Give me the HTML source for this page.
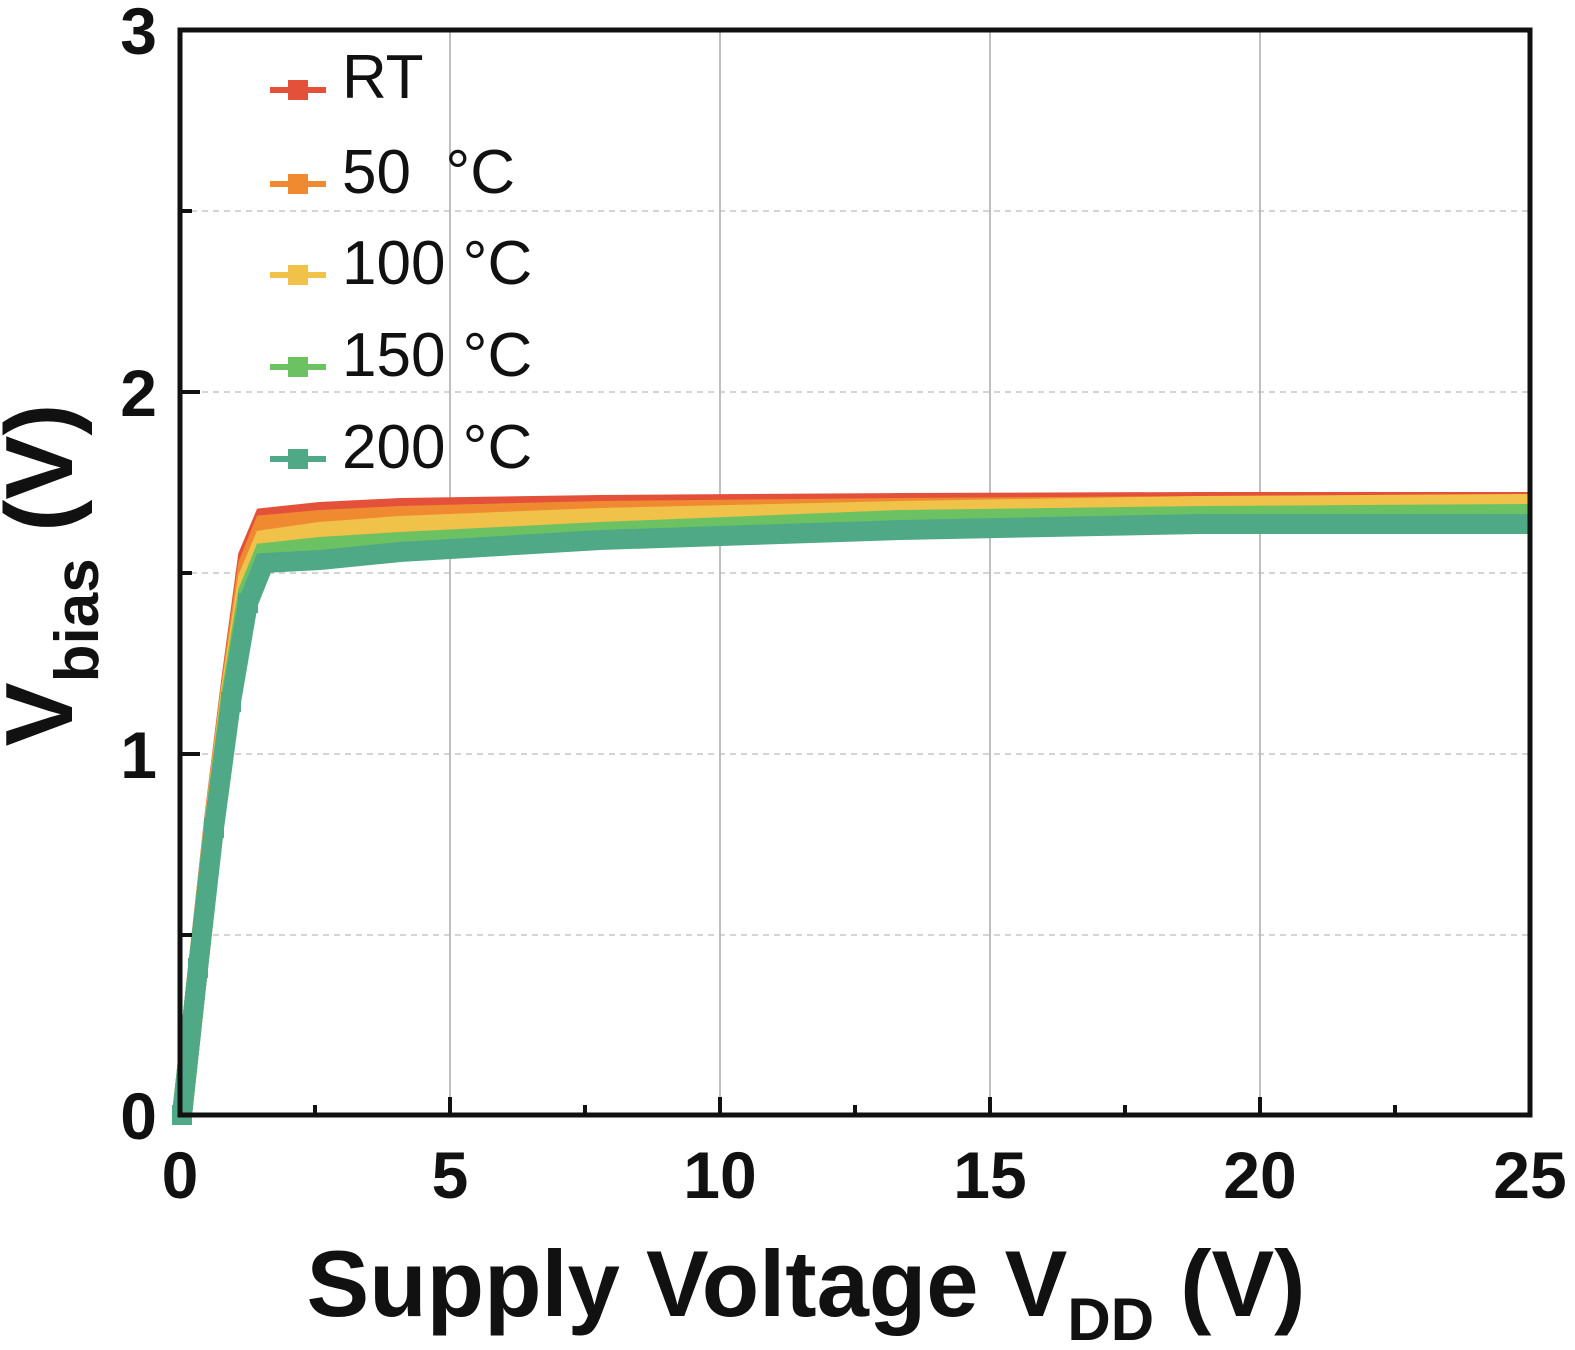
<!DOCTYPE html><html><head><style>html,body{margin:0;padding:0;overflow:hidden;background:#fff}svg{display:block}</style></head><body>
<svg width="1575" height="1350" xmlns="http://www.w3.org/2000/svg" font-family="Liberation Sans, Arial, sans-serif">
<g stroke="#aaa" stroke-width="1.5">
<line x1="450" y1="30" x2="450" y2="1115"/><line x1="720" y1="30" x2="720" y2="1115"/><line x1="990" y1="30" x2="990" y2="1115"/><line x1="1260" y1="30" x2="1260" y2="1115"/>
</g>
<g stroke="#bbb" stroke-width="1.2" stroke-dasharray="6,5">
<line x1="180" y1="211" x2="1530" y2="211"/><line x1="180" y1="392" x2="1530" y2="392"/><line x1="180" y1="573" x2="1530" y2="573"/><line x1="180" y1="754" x2="1530" y2="754"/><line x1="180" y1="935" x2="1530" y2="935"/>
</g>
<g fill="none" stroke-width="20" stroke-linejoin="miter">
<polyline stroke="#e4513a" points="182,1115 198,968 214,820 231,682 248,556 264,518 320,512 400,508 600,505 900,503 1200,502 1530,502"/>
<polyline stroke="#f08a30" points="182,1115 198,968 214,822 231,686 248,565 264,525 320,520 400,516 600,511 900,508 1200,506 1530,505"/>
<polyline stroke="#f0c24a" points="182,1115 198,968 214,824 231,690 248,578 264,540 320,532 400,526 600,518 900,511 1200,506 1530,504"/>
<polyline stroke="#6cc262" points="182,1115 198,968 214,826 231,696 248,592 264,553 320,547 400,542 600,532 900,520 1200,516 1530,514"/>
<polyline stroke="#4fa886" points="182,1115 198,968 214,828 231,702 248,603 264,563 320,560 400,552 600,540 900,530 1200,524 1530,524"/>
</g>
<g>
<rect x="172" y="1105" width="20" height="20" fill="#4fa886"/><rect x="188" y="958" width="20" height="20" fill="#4fa886"/><rect x="204" y="818" width="20" height="20" fill="#4fa886"/><rect x="221" y="692" width="20" height="20" fill="#4fa886"/><rect x="238" y="593" width="20" height="20" fill="#4fa886"/>
</g>
<rect x="180" y="30" width="1350" height="1085" fill="none" stroke="#111" stroke-width="5"/>
<g stroke="#111" stroke-width="4">
<line x1="180" y1="211" x2="192" y2="211"/><line x1="180" y1="392" x2="200" y2="392"/><line x1="180" y1="573" x2="192" y2="573"/><line x1="180" y1="754" x2="200" y2="754"/><line x1="180" y1="935" x2="192" y2="935"/>
<line x1="315" y1="1115" x2="315" y2="1105"/><line x1="450" y1="1115" x2="450" y2="1097"/><line x1="585" y1="1115" x2="585" y2="1105"/><line x1="720" y1="1115" x2="720" y2="1097"/><line x1="855" y1="1115" x2="855" y2="1105"/><line x1="990" y1="1115" x2="990" y2="1097"/><line x1="1125" y1="1115" x2="1125" y2="1105"/><line x1="1260" y1="1115" x2="1260" y2="1097"/><line x1="1395" y1="1115" x2="1395" y2="1105"/>
</g>
<g font-size="66" font-weight="bold" fill="#111" text-anchor="end">
<text x="157" y="54">3</text><text x="157" y="416">2</text><text x="157" y="778">1</text><text x="157" y="1139">0</text>
</g>
<g font-size="66" font-weight="bold" fill="#111" text-anchor="middle">
<text x="180" y="1198">0</text><text x="450" y="1198">5</text><text x="720" y="1198">10</text><text x="990" y="1198">15</text><text x="1260" y="1198">20</text><text x="1530" y="1198">25</text>
</g>
<text x="806" y="1316" font-size="94" font-weight="bold" text-anchor="middle" fill="#111">Supply Voltage V<tspan font-size="60" dy="24">DD</tspan><tspan dy="-24"> (V)</tspan></text>
<text transform="translate(72,575) rotate(-90)" font-size="96" font-weight="bold" text-anchor="middle" fill="#111">V<tspan font-size="62" dy="26">bias</tspan><tspan dy="-26"> (V)</tspan></text>
<g stroke-width="6">
<line x1="270" y1="90" x2="326" y2="90" stroke="#e4513a"/><rect x="288" y="80" width="20" height="20" fill="#e4513a"/>
<line x1="270" y1="184" x2="326" y2="184" stroke="#f08a30"/><rect x="288" y="174" width="20" height="20" fill="#f08a30"/>
<line x1="270" y1="275" x2="326" y2="275" stroke="#f0c24a"/><rect x="288" y="265" width="20" height="20" fill="#f0c24a"/>
<line x1="270" y1="367" x2="326" y2="367" stroke="#6cc262"/><rect x="288" y="357" width="20" height="20" fill="#6cc262"/>
<line x1="270" y1="459" x2="326" y2="459" stroke="#4fa886"/><rect x="288" y="449" width="20" height="20" fill="#4fa886"/>
</g>
<g font-size="62" fill="#111">
<text x="342" y="98">RT</text><text x="342" y="193">50 &#160;°C</text><text x="342" y="284">100 °C</text><text x="342" y="376">150 °C</text><text x="342" y="468">200 °C</text>
</g>
</svg></body></html>
